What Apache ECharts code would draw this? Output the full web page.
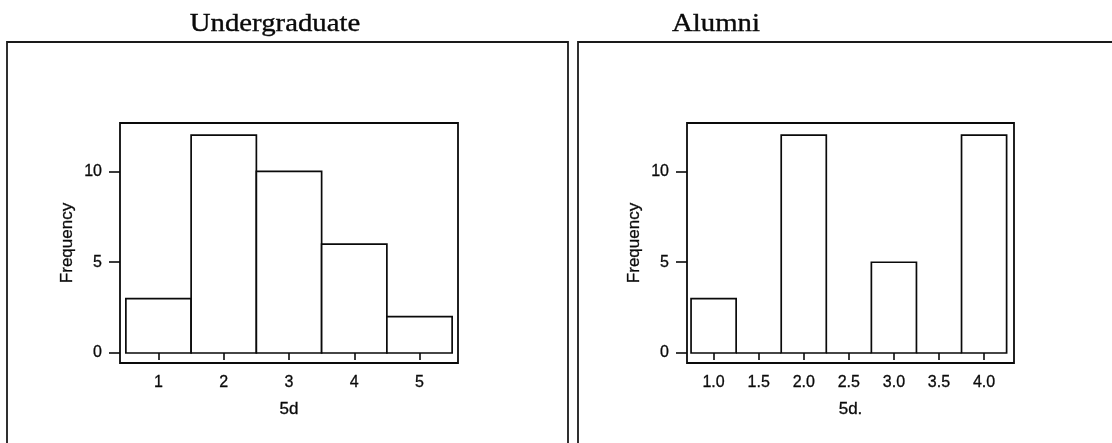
<!DOCTYPE html>
<html>
<head>
<meta charset="utf-8">
<script src="https://cdn.jsdelivr.net/npm/echarts@6/dist/echarts.min.js"></script>
<style>
  html, body { margin: 0; padding: 0; background: #fff; }
  #chart { width: 1112px; height: 443px; }
</style>
</head>
<body>
<div id="chart"></div>
<script>
// Histogram data for the two groups
const panelTitles = ['Undergraduate', 'Alumni'];
const xNames = ['5d', '5d.'];
const yName = 'Frequency';

const ugBins = [1, 2, 3, 4, 5];
const ugFreq = [3, 12, 10, 6, 2];

const alBins = [1.0, 1.5, 2.0, 2.5, 3.0, 3.5, 4.0];
const alFreq = [3, 0, 12, 0, 5, 0, 12];

const ugTicks = [1, 2, 3, 4, 5];
const alTicks = [1.0, 1.5, 2.0, 2.5, 3.0, 3.5, 4.0];
const freqTicks = [0, 5, 10];

const INK = '#0a0a0a';
const SANS = '"Liberation Sans", Arial, sans-serif';
const SERIF = '"Liberation Serif", "Times New Roman", serif';
const TEXT_HEAVY = { textBorderColor: INK, textBorderWidth: 0.3 };

// One histogram: each bin is a rectangle spanning [center - w/2, center + w/2]
function histSeries(idx, bins, freq) {
  const w = bins[1] - bins[0];
  return {
    type: 'custom',
    xAxisIndex: idx,
    yAxisIndex: idx,
    data: bins.map((b, i) => [b - w / 2, b + w / 2, freq[i]]),
    encode: { x: [0, 1], y: 2 },
    renderItem(params, api) {
      const p0 = api.coord([api.value(0), 0]);
      const p1 = api.coord([api.value(1), api.value(2)]);
      return {
        type: 'rect',
        shape: { x: p0[0], y: p1[1], width: p1[0] - p0[0], height: p0[1] - p1[1] },
        style: { fill: '#fff', stroke: INK, lineWidth: 1.7 }
      };
    }
  };
}

function xAxisDef(idx, min, max, ticks, name, fmt) {
  return {
    type: 'value', gridIndex: idx, min, max,
    name, nameLocation: 'middle', nameGap: 38,
    nameTextStyle: Object.assign({ fontFamily: SANS, fontSize: 17, color: INK }, TEXT_HEAVY),
    axisLine: { show: false },
    axisTick: { show: true, customValues: ticks, length: 7, lineStyle: { color: INK, width: 1.6 } },
    axisLabel: Object.assign({ customValues: ticks, margin: 12, fontFamily: SANS, fontSize: 16, color: INK, formatter: fmt }, TEXT_HEAVY),
    splitLine: { show: false }
  };
}

function yAxisDef(idx) {
  return {
    type: 'value', gridIndex: idx, min: -0.55, max: 12.67,
    name: yName, nameLocation: 'middle', nameGap: 44,
    nameTextStyle: Object.assign({ fontFamily: SANS, fontSize: 17, color: INK }, TEXT_HEAVY),
    axisLine: { show: false },
    axisTick: { show: true, customValues: freqTicks, length: 11, lineStyle: { color: INK, width: 1.6 } },
    axisLabel: Object.assign({ customValues: freqTicks, margin: 18, fontFamily: SANS, fontSize: 16, color: INK }, TEXT_HEAVY),
    splitLine: { show: false }
  };
}

const gridStyle = { show: true, borderColor: INK, borderWidth: 1.8, backgroundColor: 'transparent' };

const titleStyle = (text) => ({
  text, font: '25px ' + SERIF, fill: INK, stroke: INK, lineWidth: 0.35,
  textAlign: 'center', textVerticalAlign: 'middle'
});

const option = {
  animation: false,
  backgroundColor: '#fff',
  grid: [
    Object.assign({ left: 120, top: 123, width: 338, height: 240 }, gridStyle),
    Object.assign({ left: 687, top: 123, width: 327, height: 240 }, gridStyle)
  ],
  xAxis: [
    xAxisDef(0, 0.41, 5.59, ugTicks, xNames[0], v => String(v)),
    xAxisDef(1, 0.705, 4.332, alTicks, xNames[1], v => Number(v).toFixed(1))
  ],
  yAxis: [yAxisDef(0), yAxisDef(1)],
  series: [
    histSeries(0, ugBins, ugFreq),
    histSeries(1, alBins, alFreq)
  ],
  graphic: [
    { type: 'rect', shape: { x: 7, y: 42, width: 561, height: 430 },
      style: { fill: 'none', stroke: '#1a1a1a', lineWidth: 1.8 } },
    { type: 'rect', shape: { x: 578, y: 42, width: 560, height: 430 },
      style: { fill: 'none', stroke: '#1a1a1a', lineWidth: 1.8 } },
    { type: 'text', x: 275, y: 24, scaleX: 1.15, style: titleStyle(panelTitles[0]) },
    { type: 'text', x: 716, y: 24, scaleX: 1.15, style: titleStyle(panelTitles[1]) }
  ]
};

const chart = echarts.init(document.getElementById('chart'), null, { renderer: 'canvas' });
chart.setOption(option);
</script>
</body>
</html>
